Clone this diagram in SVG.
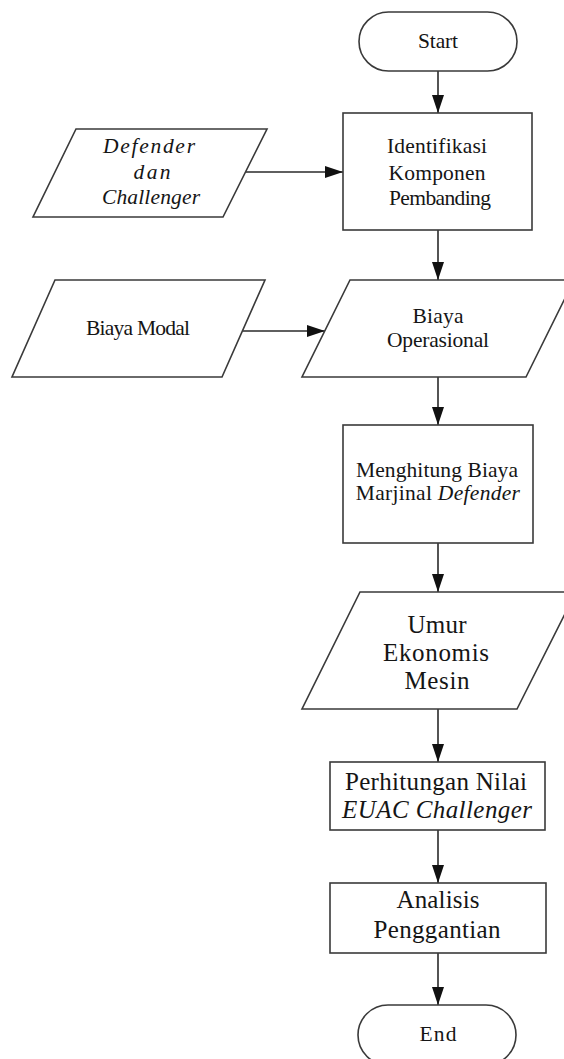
<svg xmlns="http://www.w3.org/2000/svg" width="564" height="1059" viewBox="0 0 564 1059">
  <defs>
    <style>
      .shape { fill: #ffffff; stroke: #3a3a3a; stroke-width: 1.6; }
      .line { fill: none; stroke: #2a2a2a; stroke-width: 1.6; }
      text { font-family: 'Liberation Serif', 'DejaVu Serif', serif; fill: #151515; text-anchor: middle; }
      .s { font-size: 21.5px; }
      .b { font-size: 25px; }
      .i { font-style: italic; }
    </style>
    <marker id="arrow" markerUnits="userSpaceOnUse" markerWidth="18" markerHeight="12" refX="18" refY="6" orient="auto">
      <path d="M0,0 L18,6 L0,12 Z" fill="#111111"/>
    </marker>
  </defs>

  <rect width="564" height="1059" fill="#ffffff"/>

  <!-- connectors -->
  <g id="connectors">
    <line class="line" x1="438" y1="71" x2="438" y2="113" marker-end="url(#arrow)"/>
    <line class="line" x1="246" y1="172" x2="343" y2="172" marker-end="url(#arrow)"/>
    <line class="line" x1="438" y1="230" x2="438" y2="280" marker-end="url(#arrow)"/>
    <line class="line" x1="243" y1="331" x2="325" y2="331" marker-end="url(#arrow)"/>
    <line class="line" x1="438" y1="377" x2="438" y2="425" marker-end="url(#arrow)"/>
    <line class="line" x1="438" y1="543" x2="438" y2="592" marker-end="url(#arrow)"/>
    <line class="line" x1="438" y1="709" x2="438" y2="762" marker-end="url(#arrow)"/>
    <line class="line" x1="438" y1="830" x2="438" y2="883" marker-end="url(#arrow)"/>
    <line class="line" x1="438" y1="953" x2="438" y2="1005" marker-end="url(#arrow)"/>
  </g>

  <g font-family="Liberation Serif, DejaVu Serif, serif">
  <!-- start terminal -->
  <g id="start">
    <rect class="shape" x="359" y="12" width="158" height="59" rx="29.5"/>
    <text class="s" x="438" y="48" textLength="40">Start</text>
  </g>

  <!-- identification process -->
  <g id="identifikasi">
    <rect class="shape" x="343" y="113" width="189" height="117"/>
    <text class="s" x="437" y="153" textLength="100">Identifikasi</text>
    <text class="s" x="437" y="180" textLength="97">Komponen</text>
    <text class="s" x="440" y="205" textLength="102">Pembanding</text>
  </g>

  <!-- defender / challenger input -->
  <g id="defender-challenger">
    <polygon class="shape" points="76,129 267,129 223,217 33,217"/>
    <text class="s i" x="149" y="153" textLength="92">Defender</text>
    <text class="s i" x="152" y="179" textLength="37">dan</text>
    <text class="s i" x="151" y="204" textLength="98">Challenger</text>
  </g>

  <!-- capital cost input -->
  <g id="biaya-modal">
    <polygon class="shape" points="55,280 265,280 222,377 12,377"/>
    <text class="s" x="138" y="335" textLength="104">Biaya Modal</text>
  </g>

  <!-- operating cost input -->
  <g id="biaya-operasional">
    <polygon class="shape" points="350,280 574,280 526,377 302,377"/>
    <text class="s" x="438" y="323" textLength="51">Biaya</text>
    <text class="s" x="438" y="347" textLength="102">Operasional</text>
  </g>

  <!-- marginal cost process -->
  <g id="biaya-marjinal">
    <rect class="shape" x="343" y="425" width="190" height="118"/>
    <text class="s" x="437" y="477" textLength="162">Menghitung Biaya</text>
    <text class="s" x="438" y="500" letter-spacing="0.3">Marjinal <tspan class="i">Defender</tspan></text>
  </g>

  <!-- economic life output -->
  <g id="umur-ekonomis">
    <polygon class="shape" points="360,592 576,592 517,709 302,709"/>
    <text class="b" x="437" y="633" textLength="59">Umur</text>
    <text class="b" x="436" y="661" textLength="106">Ekonomis</text>
    <text class="b" x="437" y="689" textLength="65">Mesin</text>
  </g>

  <!-- EUAC calculation process -->
  <g id="euac-challenger">
    <rect class="shape" x="330" y="762" width="215" height="68"/>
    <text class="b" x="436" y="790" textLength="182">Perhitungan Nilai</text>
    <text class="b i" x="437" y="818" textLength="190">EUAC Challenger</text>
  </g>

  <!-- replacement analysis process -->
  <g id="analisis-penggantian">
    <rect class="shape" x="330" y="883" width="216" height="70"/>
    <text class="b" x="438" y="908" textLength="83">Analisis</text>
    <text class="b" x="437" y="938" textLength="127">Penggantian</text>
  </g>

  <!-- end terminal -->
  <g id="end">
    <rect class="shape" x="358" y="1005" width="158" height="60" rx="30"/>
    <text class="s" x="438" y="1041" textLength="37">End</text>
  </g>
  </g>
</svg>
